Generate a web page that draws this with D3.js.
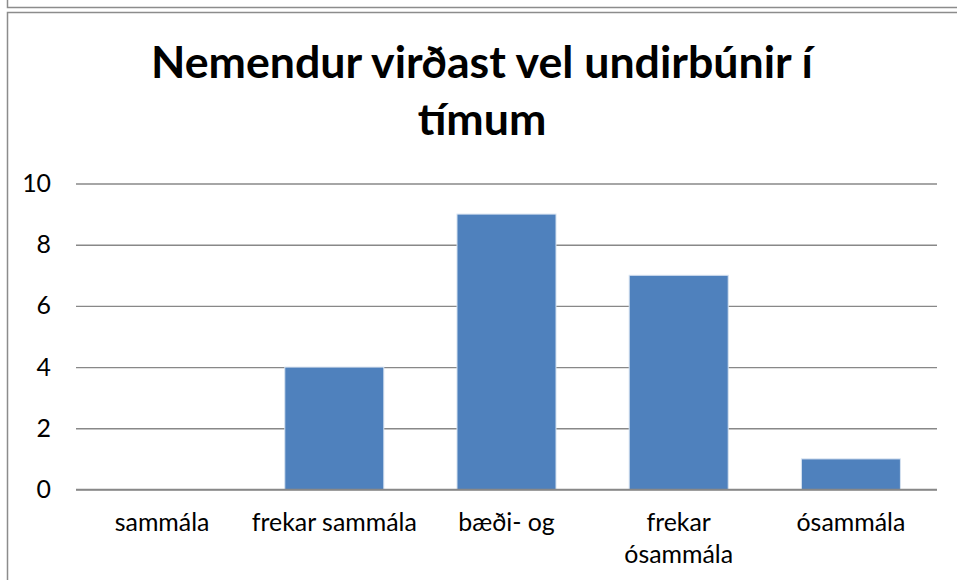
<!DOCTYPE html>
<html>
<head>
<meta charset="utf-8">
<script src="https://cdn.jsdelivr.net/npm/d3@7"></script>
<style>
  html, body { margin: 0; padding: 0; background: #fff; }
  svg { display: block; }
</style>
</head>
<body>
<div id="chart"></div>
<script>
const FONT = "Lato, 'Open Sans', sans-serif";
const WIDTH = 957;
const HEIGHT = 580;

const TITLE_LINES = ["Nemendur virðast vel undirbúnir í", "tímum"];
const CATEGORIES = ["sammála", "frekar sammála", "bæði- og", "frekar ósammála", "ósammála"];
const CATEGORY_LINES = [["sammála"], ["frekar sammála"], ["bæði- og"], ["frekar", "ósammála"], ["ósammála"]];
const VALUES = [0, 4, 9, 7, 1];
const Y_TICKS = [0, 2, 4, 6, 8, 10];

const margin = {left: 76, right: 20, top: 183.5, bottom: 90.5};

const svg = d3.select("#chart").append("svg")
	.attr("width", WIDTH)
	.attr("height", HEIGHT);

// frame of the chart above (only its bottom edge shows) and this chart's frame
svg.append("path")
	.attr("d", `M7.5,0 V7.5 H${WIDTH}`)
	.attr("fill", "none")
	.attr("stroke", "#8c8c8c")
	.attr("stroke-width", 1.5);
svg.append("path")
	.attr("d", `M7.5,${HEIGHT} V12.5 H${WIDTH}`)
	.attr("fill", "none")
	.attr("stroke", "#8c8c8c")
	.attr("stroke-width", 1.5);

const x = d3.scaleBand()
	.domain(CATEGORIES)
	.range([margin.left, WIDTH - margin.right])
	.paddingInner(0.425)
	.paddingOuter(0.2125);

const y = d3.scaleLinear()
	.domain([0, 10])
	.range([HEIGHT - margin.bottom, margin.top]);

// helper: pick a font size so that a text gets a target width
function fitSize(text, weight, target) {
	const t = svg.append("text")
		.style("font-family", FONT)
		.style("font-weight", weight)
		.style("font-size", "100px")
		.text(text);
	const w = t.node().getComputedTextLength();
	t.remove();
	return 100 * target / w;
}

const titleSize = fitSize(TITLE_LINES[0], "bold", 662);
const labelSize = fitSize("frekar sammála", "normal", 165);

// title
svg.append("g")
	.selectAll("text")
	.data(TITLE_LINES)
	.enter().append("text")
	.attr("x", 482)
	.attr("y", (d, i) => 78 + i * 57)
	.attr("text-anchor", "middle")
	.style("font-family", FONT)
	.style("font-weight", "bold")
	.style("font-size", titleSize + "px")
	.style("fill", "#000")
	.text((d) => d);

// gridlines and y labels
const yAxis = d3.axisLeft(y)
	.tickValues(Y_TICKS)
	.tickSize(-(WIDTH - margin.right - margin.left))
	.tickPadding(25);

const gy = svg.append("g")
	.attr("transform", `translate(${margin.left},0)`)
	.call(yAxis);
gy.select(".domain").remove();
gy.selectAll(".tick line")
	.attr("stroke", "#888")
	.attr("stroke-width", 1.4);
gy.selectAll(".tick text")
	.style("font-family", FONT)
	.style("font-size", labelSize + "px")
	.style("fill", "#000");

// bars
svg.append("g")
	.selectAll("rect")
	.data(VALUES)
	.enter().append("rect")
	.attr("x", (d, i) => x(CATEGORIES[i]))
	.attr("y", (d) => y(d))
	.attr("width", x.bandwidth())
	.attr("height", (d) => y(0) - y(d))
	.attr("fill", "#4f81bd")
	.attr("stroke", (d) => d > 0 ? "#d6e2f0" : "none")
	.attr("stroke-width", 1);

// baseline redrawn over the bars
svg.append("line")
	.attr("x1", margin.left)
	.attr("x2", WIDTH - margin.right)
	.attr("y1", y(0))
	.attr("y2", y(0))
	.attr("stroke", "#888")
	.attr("stroke-width", 1.4);

// category labels
const cats = svg.append("g")
	.selectAll("text")
	.data(CATEGORIES)
	.enter().append("text")
	.attr("text-anchor", "middle")
	.style("font-family", FONT)
	.style("font-size", labelSize + "px")
	.style("fill", "#000");
cats.selectAll("tspan")
	.data((d, i) => CATEGORY_LINES[i].map((line) => ({line, cat: d})))
	.enter().append("tspan")
	.attr("x", (d) => x(d.cat) + x.bandwidth() / 2)
	.attr("y", (d, j) => 531 + j * 31.5)
	.text((d) => d.line);
</script>
</body>
</html>
